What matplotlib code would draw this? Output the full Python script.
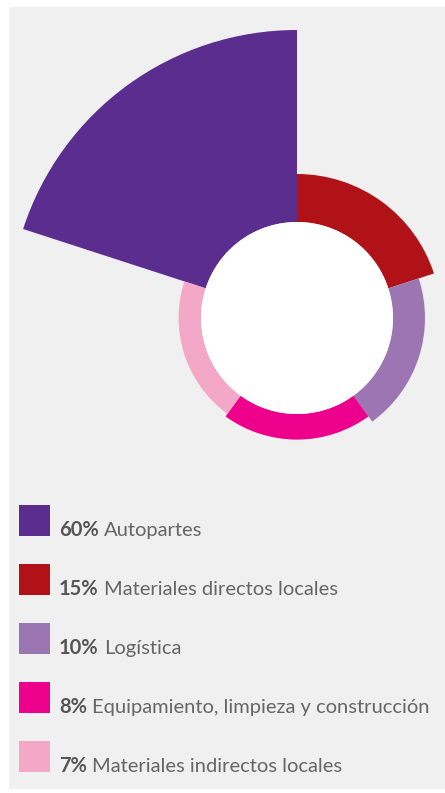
import numpy as np
import matplotlib
matplotlib.use("Agg")
import matplotlib.pyplot as plt
from matplotlib.patches import Rectangle

# spend share by category
labels = ["Autopartes", "Materiales directos locales", "Logística",
          "Equipamiento, limpieza y construcción", "Materiales indirectos locales"]
shares = [60, 15, 10, 8, 7]
colors = ["#5b2d8e", "#b01218", "#9b76b3", "#ec008c", "#f4a8c8"]

W, H = 445, 793
fig = plt.figure(figsize=(W / 100, H / 100), dpi=100, facecolor="white")

# grey card behind everything
fig.patches.append(Rectangle((9 / W, 4 / H), 1 - 9 / W, (786 - 4) / H,
                             transform=fig.transFigure, facecolor="#f0f0f0",
                             edgecolor="none", zorder=-10))

# polar rose: one 72 degree slice per category, radial length = share
cx, cy, rad = 297, H - 318, 320
ax = fig.add_axes([(cx - rad) / W, (cy - rad) / H, 2 * rad / W, 2 * rad / H],
                  projection="polar")
ax.set_zorder(1)
ax.set_theta_zero_location("N")
ax.set_theta_direction(-1)
ax.set_ylim(0, 100)
hole = 30

step = 2 * np.pi / len(shares)
# first category fills the last slot (ends at 12 o'clock), the rest go clockwise
slots = [len(shares) - 1] + list(range(len(shares) - 1))
for val, col, slot in zip(shares, colors, slots):
    ax.bar(slot * step, val, width=step, bottom=hole, align="edge",
           color=col, edgecolor="none", linewidth=0)
ax.bar(0, hole, width=2 * np.pi, bottom=0, color="white", edgecolor="none")

ax.set_facecolor("none")
ax.grid(False)
ax.set_xticks([])
ax.set_yticks([])
ax.spines["polar"].set_visible(False)

# legend rows: bold share, then the label on the same baseline
renderer = fig.canvas.get_renderer()
top0, gap, sq = 505, 59, 31
for i, (lab, val, col) in enumerate(zip(labels, shares, colors)):
    y_top = top0 + i * gap
    yb = (H - y_top - sq) / H
    fig.patches.append(Rectangle((19 / W, yb), sq / W, sq / H,
                                 transform=fig.transFigure, facecolor=col,
                                 edgecolor="none", zorder=2))
    pct = fig.text(59 / W, yb, f"{val}%", fontsize=14.5,
                   fontweight="bold", color="#555555", family="Lato",
                   va="baseline", ha="left", zorder=3)
    x_end = pct.get_window_extent(renderer).x1
    fig.text((x_end + 5) / W, yb, lab, fontsize=14.5, color="#666666",
             family="Lato", va="baseline", ha="left", zorder=3)

fig.savefig("out.png", dpi=100, facecolor="white")
